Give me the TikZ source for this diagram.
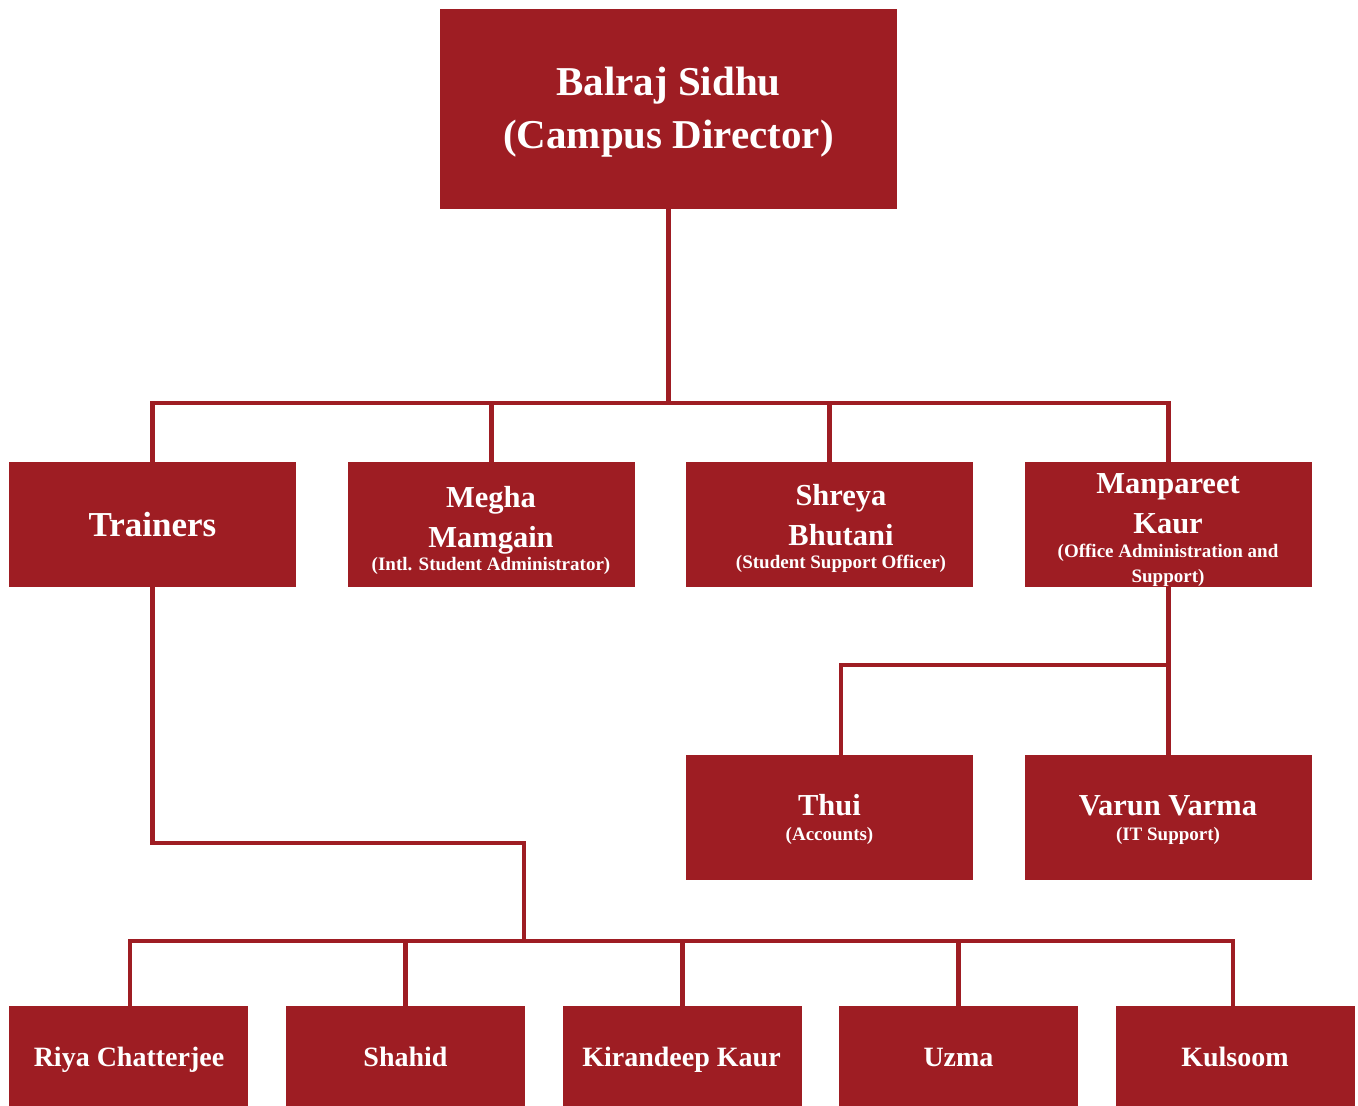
\documentclass[tikz,border=0pt]{standalone}
\usepackage{fontspec}
\setmainfont{Liberation Serif}
\definecolor{boxred}{RGB}{158,29,35}
\begin{document}
\begin{tikzpicture}[x=1pt,y=-1pt,
  box/.style={fill=boxred,draw=none,inner sep=0pt,anchor=north west},
  bigbox/.style={box,minimum width=457pt,minimum height=200pt},
  midbox/.style={box,minimum width=287pt,minimum height=125pt},
  lowbox/.style={box,minimum width=239pt,minimum height=100pt},
  txt/.style={text=white,inner sep=0pt,anchor=base,font=\bfseries},
  ttop/.style={txt,font=\bfseries\fontsize{41}{49}\selectfont},
  tname/.style={txt,font=\bfseries\fontsize{30.5}{37}\selectfont},
  tbig/.style={txt,font=\bfseries\fontsize{35}{42}\selectfont},
  tlow/.style={txt,font=\bfseries\fontsize{28}{34}\selectfont},
  tsub/.style={txt,font=\bfseries\fontsize{19}{23}\selectfont},
  conn/.style={draw=boxred,line width=4.5pt,line join=miter}]
\useasboundingbox (0,0) rectangle (1358,1106);
% boxes
\node[bigbox] (top) at (440,9) {};
\node[midbox] (trainers) at (9,462) {};
\node[midbox] (megha) at (348,462) {};
\node[midbox] (shreya) at (686,462) {};
\node[midbox] (manp) at (1025,462) {};
\node[midbox] (thui) at (686,755) {};
\node[midbox] (varun) at (1025,755) {};
\node[lowbox] (riya) at (9,1006) {};
\node[lowbox] (shahid) at (286,1006) {};
\node[lowbox] (kiran) at (563,1006) {};
\node[lowbox] (uzma) at (839,1006) {};
\node[lowbox] (kuls) at (1116,1006) {};
% connectors
\coordinate (bus1) at (668,403);
\coordinate (bus3) at (524,941);
\coordinate (tr1) at (524,843);
\coordinate (j2) at (1168.5,665);
\path[conn] (trainers.north) |- (manp.north |- bus1) -- (manp.north);
\path[conn] (top.south) -- (top.south |- bus1);
\path[conn] (megha.north) -- (megha.north |- bus1);
\path[conn] (shreya.north) -- (shreya.north |- bus1);
\path[conn] (manp.south) -- (varun.north);
\path[conn] (j2) -| ([xshift=11.5pt]thui.north);
\path[conn] (trainers.south) |- (tr1) -- (bus3);
\path[conn] ([xshift=1.5pt]riya.north) |- ([xshift=-2.5pt]kuls.north |- bus3) -- ([xshift=-2.5pt]kuls.north);
\path[conn] (shahid.north) -- (shahid.north |- bus3);
\path[conn] (kiran.north) -- (kiran.north |- bus3);
\path[conn] (uzma.north) -- (uzma.north |- bus3);
% texts
\node[ttop] (t1) at (668.5,95) {Balraj Sidhu};
\node[ttop] (t2) at (668.5,148) {(Campus Director)};
\node[tbig] (tr) at (152.5,536) {Trainers};
\node[tname] (m1) at (491,507) {Megha};
\node[tname] (m2) at (491,547) {Mamgain};
\node[tsub] (m3) at (491,570) {(Intl. Student Administrator)};
\node[tname] (s1) at (841,505) {Shreya};
\node[tname] (s2) at (841,545) {Bhutani};
\node[tsub] (s3) at (841,568) {(Student Support Officer)};
\node[tname] (k1) at (1168,493) {Manpareet};
\node[tname] (k2) at (1168,533) {Kaur};
\node[tsub] (k3) at (1168,557) {(Office Administration and};
\node[tsub] (k4) at (1168,582) {Support)};
\node[tname] (th1) at (829.5,815) {Thui};
\node[tsub] (th2) at (829.5,840) {(Accounts)};
\node[tname] (v1) at (1168,815) {Varun Varma};
\node[tsub] (v2) at (1168,840) {(IT Support)};
\node[tlow] (b1) at (129,1066) {Riya Chatterjee};
\node[tlow] (b2) at (405.5,1066) {Shahid};
\node[tlow] (b3) at (681.5,1066) {Kirandeep Kaur};
\node[tlow] (b4) at (958.5,1066) {Uzma};
\node[tlow] (b5) at (1235,1066) {Kulsoom};
\end{tikzpicture}
\end{document}
